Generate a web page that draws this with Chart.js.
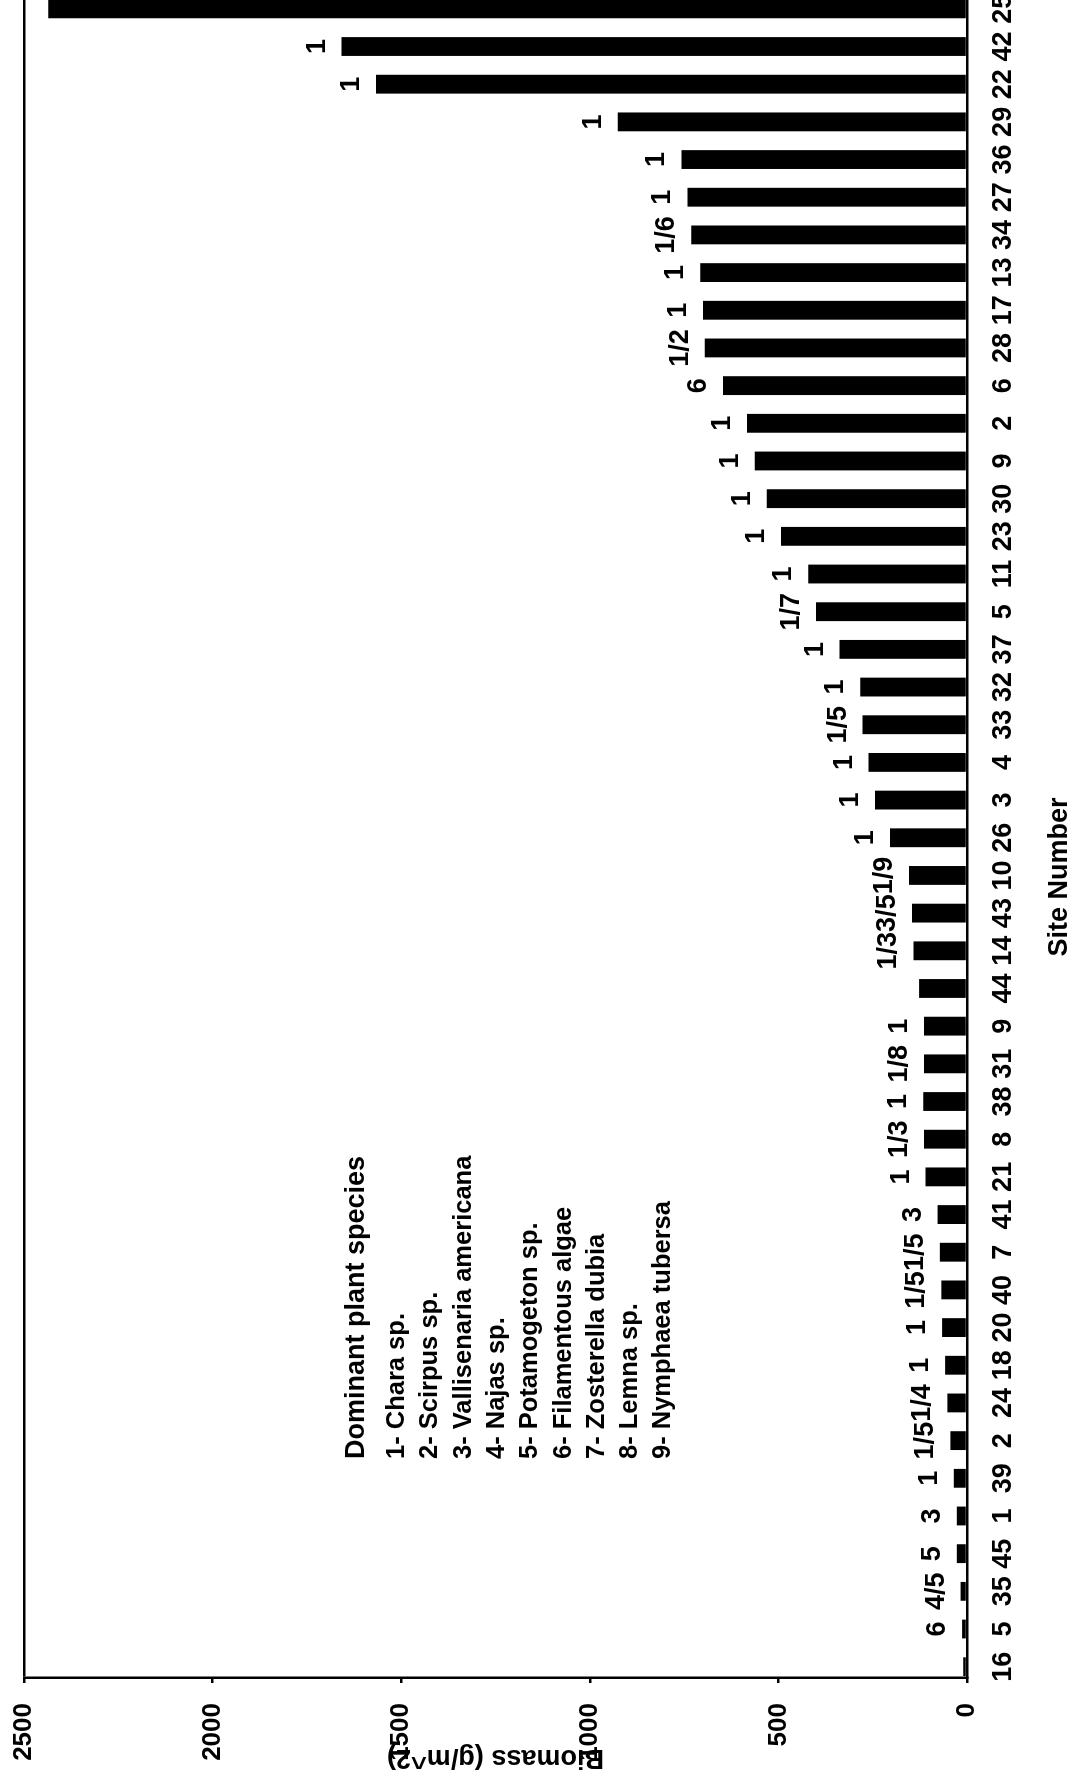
<!DOCTYPE html>
<html>
<head>
<meta charset="utf-8">
<script src="https://cdn.jsdelivr.net/npm/chart.js@4.4.0/dist/chart.umd.min.js"></script>
<style>
    html, body { margin: 0; padding: 0; background: #fff; width: 1080px; height: 1775px; overflow: hidden; }
    /* chart is laid out landscape, then turned a quarter turn to stand on the page */
    #wrap {
        position: absolute; left: 0; top: 0;
        width: 1800px; height: 1080px;
        transform-origin: 0 0;
        transform: translate(0px, 1775px) rotate(-90deg);
    }
</style>
</head>
<body>
<div id="wrap"><canvas id="biomassChart" width="1800" height="1080"></canvas></div>
<script>
// Site numbers, in order of increasing biomass
const sites = ['16', '5', '35', '45', '1', '39', '2', '24', '18', '20', '40', '7', '41', '21', '8',
    '38', '31', '9', '44', '14', '43', '10', '26', '3', '4', '33', '32', '37', '5', '11',
    '23', '30', '9', '2', '6', '28', '17', '13', '34', '27', '36', '29', '22', '42', '25'];

// Biomass (g/m^2) per site
const biomass = [10, 13, 17, 27, 27, 35, 44, 52, 58, 66, 68, 72, 78, 110, 114,
    116, 114, 114, 127, 142, 146, 154, 204, 244, 261, 277, 283, 338, 400, 421,
    493, 531, 563, 583, 647, 695, 700, 707, 731, 741, 757, 926, 1567, 1658, 2436];

// Dominant species code(s) written above each bar
const dominant = ['', '6', '4/5', '5', '3', '1', '1/5', '1/4', '1', '1', '1/5', '1/5', '3', '1', '1/3',
    '1', '1/8', '1', '', '1/3', '3/5', '1/9', '1', '1', '1', '1/5', '1', '1', '1/7', '1',
    '1', '1', '1', '1', '6', '1/2', '1', '1', '1/6', '1', '1', '1', '1', '1', ''];

const speciesTitle = 'Dominant plant species';
const speciesKey = [
    '1- Chara sp.',
    '2- Scirpus sp.',
    '3- Vallisenaria americana',
    '4- Najas sp.',
    '5- Potamogeton sp.',
    '6- Filamentous algae',
    '7- Zosterella dubia',
    '8- Lemna sp.',
    '9- Nymphaea tubersa'
];

const biomassTicks = [0, 500, 1000, 1500, 2000, 2500];

const FAMILY = '"Liberation Sans", Arial, Helvetica, sans-serif';
Chart.defaults.font.family = FAMILY;
Chart.defaults.color = '#000';

// Species codes, axis titles and the species key
const textPlugin = {
    id: 'chartText',
    afterDatasetsDraw(chart) {
        const c = chart.ctx;
        const meta = chart.getDatasetMeta(0);
        c.save();
        c.fillStyle = '#000';
        c.font = 'bold 27px ' + FAMILY;
        c.textAlign = 'center';
        c.textBaseline = 'alphabetic';
        meta.data.forEach((bar, i) => {
            if (dominant[i]) c.fillText(dominant[i], bar.x, bar.y - 17);
        });
        c.restore();
    },
    afterDraw(chart) {
        const c = chart.ctx;
        const area = chart.chartArea;
        c.save();
        c.fillStyle = '#000';

        // x axis title
        c.font = 'bold 27px ' + FAMILY;
        c.textAlign = 'center';
        c.textBaseline = 'middle';
        c.fillText('Site Number', 898, 1060);

        // y axis title
        c.save();
        c.translate(18, (area.top + area.bottom) / 2);
        c.rotate(-Math.PI / 2);
        c.fillText('Biomass (g/m^2)', 0, 0);
        c.restore();

        // species key
        c.textAlign = 'left';
        c.font = 'bold 27px ' + FAMILY;
        c.fillText(speciesTitle, 316, 357);
        c.font = 'bold 25.5px ' + FAMILY;
        speciesKey.forEach((line, i) => {
            c.fillText(line, 316, 397 + i * 33.3);
        });
        c.restore();
    }
};

// keep the plot area exactly where the layout padding puts it
function fixAxis(size, prop) {
    return s => {
        s[prop] = size;
        s.paddingLeft = 0;
        s.paddingRight = 0;
        s.paddingTop = 0;
        s.paddingBottom = 0;
    };
}

const ctx = document.getElementById('biomassChart').getContext('2d');
new Chart(ctx, {
    type: 'bar',
    data: {
        datasets: [{
            data: biomass.map((v, i) => ({ x: i, y: v })),
            backgroundColor: '#000',
            borderWidth: 0,
            categoryPercentage: 1,
            barPercentage: 0.5
        }]
    },
    options: {
        responsive: false,
        animation: false,
        layout: { padding: { top: 24, right: 15, left: 0, bottom: 0 } },
        plugins: {
            legend: { display: false },
            tooltip: { enabled: false }
        },
        scales: {
            x: {
                type: 'linear',
                offset: false,
                min: -0.3,
                max: 44.5,
                afterFit: fixAxis(113, 'height'),
                grid: { display: false, drawTicks: false, offset: false },
                border: { display: true, color: '#000', width: 2.5 },
                ticks: {
                    stepSize: 1,
                    includeBounds: false,
                    autoSkip: false,
                    maxRotation: 0,
                    minRotation: 0,
                    padding: 20,
                    color: '#000',
                    font: { size: 27, weight: 'bold' },
                    callback: v => sites[v]
                }
            },
            y: {
                min: biomassTicks[0],
                max: biomassTicks[biomassTicks.length - 1],
                afterFit: fixAxis(97, 'width'),
                afterBuildTicks: s => { s.ticks = biomassTicks.map(v => ({ value: v })); },
                border: { display: true, color: '#000', width: 2.5 },
                grid: {
                    // only the top edge of the plot is ruled
                    color: c => (c.tick && c.tick.value === 2500) ? '#000' : 'rgba(0,0,0,0)',
                    tickColor: '#000',
                    tickLength: 5,
                    lineWidth: 2.5
                },
                ticks: {
                    padding: 20,
                    color: '#000',
                    font: { size: 26, weight: 'bold' },
                    callback: v => String(v)
                }
            }
        }
    },
    plugins: [textPlugin]
});
</script>
</body>
</html>
